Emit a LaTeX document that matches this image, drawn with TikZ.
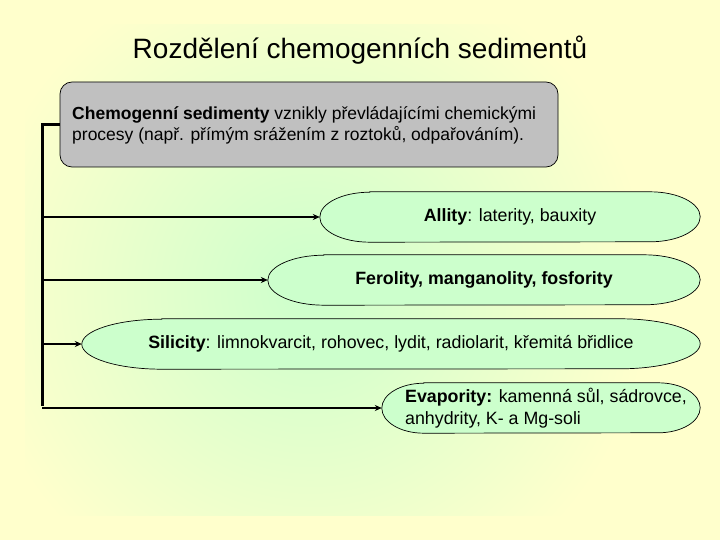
\documentclass[tikz,border=0pt]{standalone}
\usepackage{fontspec}
\setmainfont{Liberation Sans}
\usetikzlibrary{arrows.meta}
\pgfdeclarelayer{background}
\pgfsetlayers{background,main}
\definecolor{bgyellow}{HTML}{FFFFCC}
\definecolor{bggreen}{HTML}{CCFFCC}
\definecolor{ellfill}{HTML}{CCFFCC}
\definecolor{boxgray}{HTML}{C0C0C0}
\tikzset{
  oval/.style={rectangle, inner sep=0pt, minimum height=50pt},
  ovaltext/.style={font=\fontsize{17.8}{22}\selectfont, align=left, inner sep=0pt},
  capsule/.style={draw=black, line width=0.7pt, fill=ellfill},
  graybox/.style={draw=black, line width=0.7pt, fill=boxgray, rounded corners=12pt, minimum width=498pt, minimum height=85pt, inner sep=0pt},
  bus/.style={line width=3pt},
  link/.style={line width=2pt, -{Stealth[length=7pt,width=6pt]}}
}
\newcommand{\capsuleof}[2]{%
  \path[capsule] ([xshift=#2pt]#1.north west) -- ([xshift=-#2pt]#1.north east)
    arc[start angle=90, end angle=-90, x radius=#2pt, y radius=25pt]
    -- ([xshift=#2pt]#1.south west)
    arc[start angle=270, end angle=90, x radius=#2pt, y radius=25pt] -- cycle;}
\begin{document}
\begin{tikzpicture}[x=1pt,y=-1pt]
\useasboundingbox (0,0) rectangle (720,540);
\node[font=\fontsize{28}{32}\selectfont] (title) at (360,50) {Rozdělení chemogenních sedimentů};
\node[graybox] (box) at (309,124.5) {};
\node[align=left, anchor=west, inner sep=0pt, font=\fontsize{17.5}{21}\selectfont] (boxtext) at (72,125) {\textbf{Chemogenní sedimenty} vznikly převládajícími chemickými\\procesy (např. přímým srážením z roztoků, odpařováním).};
\node[oval, minimum width=380pt, label={[ovaltext]center:{\textbf{Allity}: laterity, bauxity}}] (a) at (510,217) {};
\node[oval, minimum width=432pt, label={[ovaltext]center:{\textbf{Ferolity, manganolity, fosfority}}}] (f) at (484,280) {};
\node[oval, minimum width=618pt, label={[ovaltext]center:{\textbf{Silicity}: limnokvarcit, rohovec, lydit, radiolarit, křemitá břidlice}}] (s) at (391,344) {};
\node[oval, minimum width=318pt, label={[ovaltext, xshift=5pt]center:{\textbf{Evapority:} kamenná sůl, sádrovce,\\anhydrity, K- a Mg-soli}}] (e) at (541,408) {};
\begin{pgfonlayer}{background}
\fill[bgyellow] (0,0) rectangle (720,540);
\begin{scope}
\clip (25,25) rectangle (695,515);
\shade[inner color=bggreen, outer color=bgyellow] (-30,-50) rectangle (650,630);
\end{scope}
\capsuleof{a}{50}
\capsuleof{f}{56}
\capsuleof{s}{80}
\capsuleof{e}{42}
\end{pgfonlayer}
\coordinate (top) at (42,124.5);
\coordinate (bot) at (42,406);
\draw[bus] (box.west) -- (top) -- (bot);
\draw[link] (a.west -| top) -- (a.west);
\draw[link] (f.west -| top) -- (f.west);
\draw[link] (s.west -| top) -- (s.west);
\draw[link] (e.west -| top) -- (e.west);
\end{tikzpicture}
\end{document}
